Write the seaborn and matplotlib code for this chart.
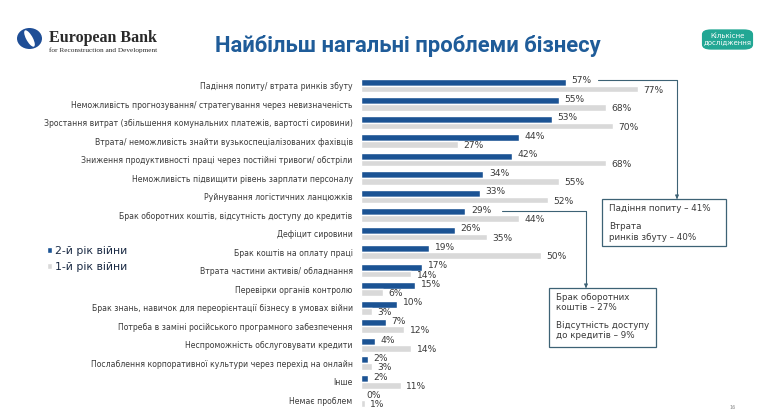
import matplotlib
matplotlib.use("Agg")
import matplotlib.pyplot as plt
import seaborn as sns
import pandas as pd
from matplotlib.patches import Patch, FancyBboxPatch, Rectangle, Ellipse, FancyArrowPatch
from matplotlib.lines import Line2D

categories = [
    "Падіння попиту/ втрата ринків збуту",
    "Неможливість прогнозування/ стратегування через невизначеність",
    "Зростання витрат (збільшення комунальних платежів, вартості сировини)",
    "Втрата/ неможливість знайти вузькоспеціалізованих фахівців",
    "Зниження продуктивності праці через постійні тривоги/ обстріли",
    "Неможливість підвищити рівень зарплати персоналу",
    "Руйнування логістичних ланцюжків",
    "Брак оборотних коштів, відсутність доступу до кредитів",
    "Дефіцит сировини",
    "Брак коштів на оплату праці",
    "Втрата частини активів/ обладнання",
    "Перевірки органів контролю",
    "Брак знань, навичок для переорієнтації бізнесу в умовах війни",
    "Потреба в заміні російського програмного забезпечення",
    "Неспроможність обслуговувати кредити",
    "Послаблення корпоративної культури через перехід на онлайн",
    "Інше",
    "Немає проблем",
]
year2 = [57, 55, 53, 44, 42, 34, 33, 29, 26, 19, 17, 15, 10, 7, 4, 2, 2, 0]
year1 = [77, 68, 70, 27, 68, 55, 52, 44, 35, 50, 14, 6, 3, 12, 14, 3, 11, 1]
series_names = ["2-й рік війни", "1-й рік війни"]

BLUE = "#1B5394"
GRAY = "#D9D9D9"
TEXT = "#3a3a3a"

df = pd.DataFrame({
    "cat": categories * 2,
    "val": year2 + year1,
    "series": [series_names[0]] * len(categories) + [series_names[1]] * len(categories),
})

sns.set_theme(style="white")
plt.rcParams["font.family"] = ["DejaVu Sans"]

W, H = 768, 411
fig = plt.figure(figsize=(7.68, 4.11), dpi=100)

def fx(x):
    return x / W

def fy(y):
    return 1 - y / H

ax = fig.add_axes([fx(361), fy(409.5), 360 / W, (409.5 - 76.25) / H])
sns.barplot(data=df, y="cat", x="val", hue="series", hue_order=series_names,
            palette=[BLUE, GRAY], orient="h", width=0.74, ax=ax, legend=False,
            saturation=1, errorbar=None)
ax.set_xlim(0, 100)
ax.set_ylim(len(categories) - 0.5, -0.5)
ax.set_xlabel("")
ax.set_ylabel("")
ax.set_xticks([])
ax.set_yticks(range(len(categories)))
ax.set_yticklabels(categories, fontsize=5.6, color=TEXT)
ax.tick_params(axis="y", length=0, pad=6)
for s in ax.spines.values():
    s.set_visible(False)
ax.patch.set_alpha(0)

for i, cont in enumerate(ax.containers):
    anns = ax.bar_label(cont, labels=[f"{v:.0f}%" for v in cont.datavalues],
                        padding=4, fontsize=6.6, color=TEXT)
    dy = 0.9 if i == 0 else -0.9
    for a in anns:
        a.xyann = (4, dy)

# Title
fig.text(fx(408), fy(46), "Найбільш нагальні проблеми бізнесу", ha="center", va="center",
         fontsize=15.8, fontweight="bold", color="#1F5C99", family="Roboto")

# Logo
fig.patches.append(Ellipse((fx(29.5), fy(38.5)), 25 / W, 21 / H, transform=fig.transFigure,
                           facecolor="#1F4E96", edgecolor="none"))
fig.patches.append(Ellipse((fx(29.5), fy(38.5)), 7 / W, 17 / H, transform=fig.transFigure,
                           facecolor="white", edgecolor="none", angle=15))
fig.text(fx(49), fy(38), "European Bank", ha="left", va="center", fontsize=11.5,
         family="Liberation Serif", fontweight="bold", color="#2a2a2a")
fig.text(fx(49), fy(50.5), "for Reconstruction and Development", ha="left", va="center",
         fontsize=5.2, family="Liberation Serif", color="#2a2a2a")

# Badge
fig.patches.append(FancyBboxPatch((fx(705), fy(48)), 45 / W, 17 / H,
                                  boxstyle="round,pad=0.004,rounding_size=0.012",
                                  transform=fig.transFigure, facecolor="#22A794", edgecolor="none"))
fig.text(fx(727.5), fy(39.5), "Кількісне\nдослідження", ha="center", va="center",
         fontsize=5.0, color="white", linespacing=1.1)

# Legend
handles = [Patch(facecolor=BLUE), Patch(facecolor=GRAY)]
fig.legend(handles, series_names, loc="upper left", bbox_to_anchor=(fx(37), fy(236)),
           frameon=False, fontsize=7.8, handlelength=0.5, handleheight=0.5,
           handletextpad=0.25, labelspacing=0.55, labelcolor="#1a2a44")

# Callout boxes
LC = "#3D6275"
def line(xs, ys):
    fig.lines.append(Line2D([fx(x) for x in xs], [fy(y) for y in ys],
                            transform=fig.transFigure, color=LC, lw=0.8))

def arrow_down(x, y):
    fig.patches.append(FancyArrowPatch(
        (fx(x), fy(y - 4)), (fx(x), fy(y)), transform=fig.transFigure,
        arrowstyle="-|>", mutation_scale=5, color=LC, lw=0.8))

line([598, 677, 677], [80, 80, 196])
arrow_down(677, 199)
fig.patches.append(Rectangle((fx(602), fy(246)), 124 / W, 47 / H, transform=fig.transFigure,
                             facecolor="white", edgecolor=LC, lw=0.9))
fig.text(fx(609), fy(208.5), "Падіння попиту – 41%", ha="left", va="center", fontsize=6.3, color=TEXT)
fig.text(fx(609), fy(226.5), "Втрата", ha="left", va="center", fontsize=6.3, color=TEXT)
fig.text(fx(609), fy(237.5), "ринків збуту – 40%", ha="left", va="center", fontsize=6.3, color=TEXT)

line([502, 586, 586], [211, 211, 285])
arrow_down(586, 288)
fig.patches.append(Rectangle((fx(549), fy(347)), 107 / W, 59 / H, transform=fig.transFigure,
                             facecolor="white", edgecolor=LC, lw=0.9))
fig.text(fx(556), fy(297), "Брак оборотних", ha="left", va="center", fontsize=6.3, color=TEXT)
fig.text(fx(556), fy(307.5), "коштів – 27%", ha="left", va="center", fontsize=6.3, color=TEXT)
fig.text(fx(556), fy(325.5), "Відсутність доступу", ha="left", va="center", fontsize=6.3, color=TEXT)
fig.text(fx(556), fy(335.5), "до кредитів – 9%", ha="left", va="center", fontsize=6.3, color=TEXT)

fig.text(fx(733), fy(407), "16", ha="center", va="center", fontsize=3.5, color="#888888")

fig.savefig("out.png", dpi=100)
